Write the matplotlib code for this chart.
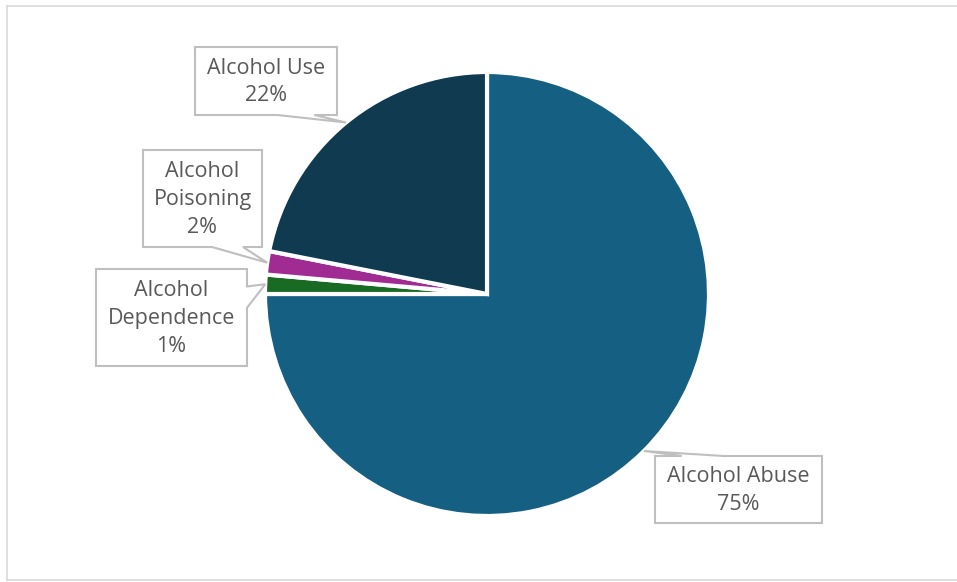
import numpy as np
import matplotlib
matplotlib.use("Agg")
import matplotlib.pyplot as plt
from matplotlib.patches import Polygon
from matplotlib.lines import Line2D
from matplotlib.transforms import Affine2D

# ── Data ────────────────────────────────────────────────────────────────────
categories = ["Alcohol Abuse", "Alcohol Dependence", "Alcohol Poisoning", "Alcohol Use"]
shares = [75.0, 1.4, 1.7, 21.9]
colors = ["#156082", "#196B24", "#A02B93", "#0F3A50"]

# callout boxes (left, top, right, bottom) in pixels and the side the pointer leaves from
label_boxes = {
    "Alcohol Abuse":      ((655, 456, 822, 523), "top"),
    "Alcohol Dependence": ((96, 269, 247, 366), "right"),
    "Alcohol Poisoning":  ((143, 150, 262, 247), "bottom"),
    "Alcohol Use":        ((195, 47, 337, 115), "bottom"),
}
label_lines = {
    "Alcohol Abuse": "Alcohol Abuse",
    "Alcohol Dependence": "Alcohol\nDependence",
    "Alcohol Poisoning": "Alcohol\nPoisoning",
    "Alcohol Use": "Alcohol Use",
}

W, H = 957, 582
TEXT = "#595959"
BOX_EDGE = "#BFBFBF"
FONT = ["Open Sans", "DejaVu Sans"]

fig = plt.figure(figsize=(W / 100, H / 100), dpi=100)
fig.patch.set_facecolor("white")
px = Affine2D().scale(1 / W, -1 / H).translate(0, 1) + fig.transFigure

# chart frame (right side runs off the canvas)
for xs, ys in [([7, W], [5.5, 5.5]), ([7, 7], [5.5, 580]), ([7, W], [580, 580])]:
    fig.add_artist(Line2D(xs, ys, transform=px, color="#D9D9D9", lw=1.2))

# ── Pie ─────────────────────────────────────────────────────────────────────
cx, cy, r = 487, 294, 222
ax = fig.add_axes([(cx - r) / W, (H - cy - r) / H, 2 * r / W, 2 * r / H])
wedges, _ = ax.pie(shares, colors=colors, startangle=90, counterclock=False,
                   radius=1, wedgeprops={"edgecolor": "white", "linewidth": 3})
ax.set_xlim(-1, 1)
ax.set_ylim(-1, 1)
ax.axis("off")

# ── Callout labels ──────────────────────────────────────────────────────────
for wedge, cat, val in zip(wedges, categories, shares):
    mid = np.deg2rad((wedge.theta1 + wedge.theta2) / 2)
    tip = (cx + r * np.cos(mid), cy - r * np.sin(mid))
    (x0, y0, x1, y1), side = label_boxes[cat]
    bw, bh = x1 - x0, y1 - y0

    if side == "right":
        b0, b1 = y0 + 0.18 * bh, y0 + 0.40 * bh
        pts = [(x0, y0), (x1, y0), (x1, b0), tip, (x1, b1), (x1, y1), (x0, y1)]
    elif side == "top":
        b0, b1 = x0 + 0.16 * bw, x0 + 0.41 * bw
        pts = [(x0, y0), (b0, y0), tip, (b1, y0), (x1, y0), (x1, y1), (x0, y1)]
    else:
        b0, b1 = x0 + 0.58 * bw, x0 + 0.84 * bw
        pts = [(x0, y0), (x1, y0), (x1, y1), (b1, y1), tip, (b0, y1), (x0, y1)]
    fig.add_artist(Polygon(pts, closed=True, transform=px, facecolor="white",
                           edgecolor=BOX_EDGE, lw=1.5, zorder=5))
    fig.text((x0 + x1) / 2, (y0 + y1) / 2 + 1, f"{label_lines[cat]}\n{val:.0f}%",
             transform=px, ha="center", va="center", ma="center", color=TEXT,
             fontsize=15.5, family=FONT, linespacing=1.42, zorder=6)

fig.savefig("out.png", dpi=100, facecolor="white")
